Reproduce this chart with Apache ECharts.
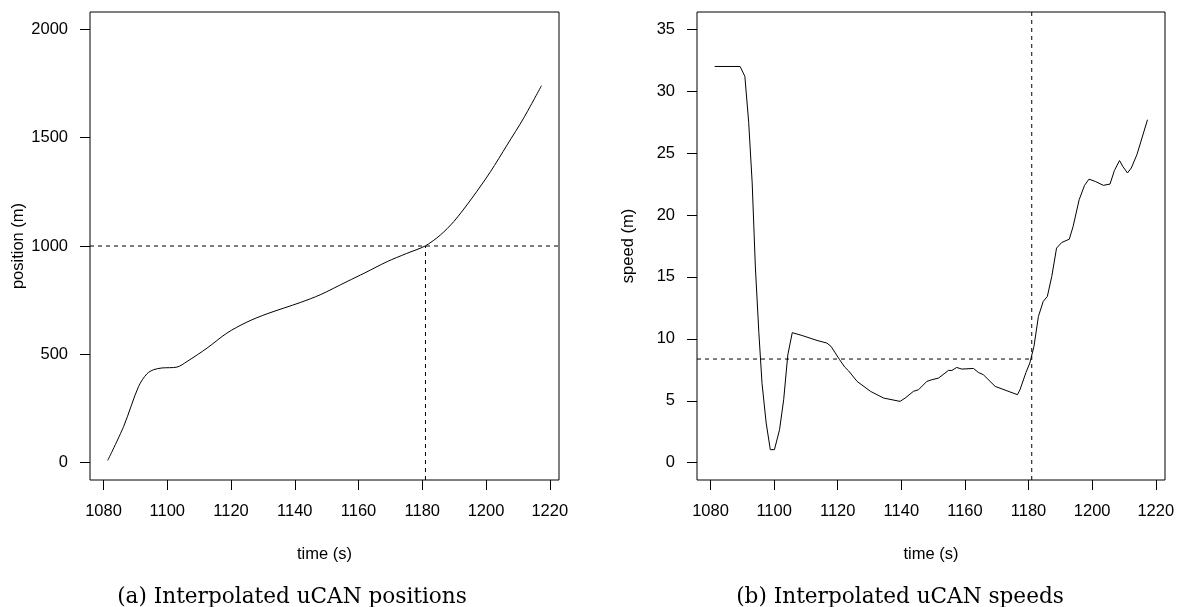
<!DOCTYPE html>
<html>
<head>
<meta charset="utf-8">
<script src="https://cdn.jsdelivr.net/npm/echarts@6/dist/echarts.min.js"></script>
<style>
html,body{margin:0;padding:0;background:#fff;}
#chart{width:1178px;height:607px;}
</style>
</head>
<body>
<div id="chart"></div>
<script>
// ---- data ----
const posTime  = [1081.3,1086.3,1091.0,1093.6,1095.7,1098.3,1103.0,1106.2,1112.5,1118.7,1125.0,1131.3,1141.7,1148.0,1156.4,1162.0,1169.0,1175.0,1181.0,1185.7,1189.9,1195.6,1201.4,1206.6,1211.8,1217.4];
const posValue = [10,167,352,410,429,437,441,467,529,598,649,687,739,775,836,876,928,965,1001,1051,1113,1221,1343,1466,1590,1740];

const spdTime  = [1081.3,1089.3,1090.8,1092.0,1093.1,1094.1,1095.2,1096.2,1097.5,1098.8,1100.1,1101.7,1103.0,1104.3,1105.7,1108.8,1113.5,1116.6,1117.9,1120.6,1122.2,1123.4,1126.1,1130.3,1134.4,1139.6,1141.2,1143.8,1145.4,1148.0,1149.6,1151.7,1154.8,1155.9,1157.4,1159.0,1162.7,1164.2,1165.8,1169.5,1176.5,1177.3,1179.2,1180.4,1181.7,1183.1,1184.6,1185.9,1187.3,1188.8,1190.4,1192.8,1194.0,1195.9,1197.6,1199.0,1201.1,1203.5,1205.6,1207.0,1208.6,1209.7,1211.1,1212.3,1214.1,1217.4];
const spdValue = [32.0,32.0,31.2,27.5,22.6,15.8,10.5,6.4,3.2,1.05,1.05,2.66,5.08,8.7,10.5,10.27,9.87,9.66,9.39,8.31,7.72,7.42,6.56,5.76,5.22,4.95,5.22,5.76,5.89,6.56,6.70,6.83,7.45,7.45,7.69,7.56,7.61,7.29,7.10,6.16,5.49,5.89,7.29,8.05,9.39,11.81,13.02,13.42,15.04,17.33,17.78,18.05,19.07,21.23,22.4,22.9,22.7,22.4,22.5,23.6,24.4,23.9,23.4,23.8,24.9,27.7];

const timeTicks  = [1080,1100,1120,1140,1160,1180,1200,1220];
const posTicks   = [0,500,1000,1500,2000];
const speedTicks = [0,5,10,15,20,25,30,35];

const posThreshold = 1000;   // m
const crossTime    = 1181;   // s
const crossSpeed   = 8.37;   // m/s

const captionA = '(a) Interpolated uCAN positions';
const captionB = '(b) Interpolated uCAN speeds';

// ---- chart ----
const X_MIN = 1075.75, X_MAX = 1222.9;
const P_MIN = -80, P_MAX = 2080;
const S_MIN = -1.4, S_MAX = 36.4;

const sans = '"Liberation Sans", Arial, sans-serif';
const serif = '"DejaVu Serif", "Liberation Serif", serif';
const FS = 16.5;

function xAxisDef(gi){
  return {
    type:'value', gridIndex:gi, min:X_MIN, max:X_MAX,
    name:'time (s)', nameLocation:'middle', nameGap:66,
    nameTextStyle:{fontFamily:sans, fontSize:FS, color:'#000'},
    axisLine:{show:false, onZero:false},
    splitLine:{show:false},
    axisTick:{show:true, length:10, customValues:timeTicks, lineStyle:{color:'#000', width:1}},
    axisLabel:{customValues:timeTicks, margin:23, fontFamily:sans, fontSize:FS, color:'#000', formatter:v=>String(v)}
  };
}
function yAxisDef(gi, mn, mx, ticks, name){
  return {
    type:'value', gridIndex:gi, min:mn, max:mx,
    name:name, nameLocation:'middle', nameGap:60,
    nameTextStyle:{fontFamily:sans, fontSize:FS, color:'#000'},
    axisLine:{show:false, onZero:false},
    splitLine:{show:false},
    axisTick:{show:true, length:10, customValues:ticks, lineStyle:{color:'#000', width:1}},
    axisLabel:{customValues:ticks, margin:22, fontFamily:sans, fontSize:FS, color:'#000', formatter:v=>String(v)}
  };
}

const zip = (a,b) => a.map((v,i)=>[v,b[i]]);
const dash = {color:'#000', width:1, type:[4,4]};

const option = {
  animation:false,
  backgroundColor:'#fff',
  grid:[
    {left:90, top:12, width:469, height:468, show:true, borderColor:'#000', borderWidth:1, containLabel:false},
    {left:697, top:12, width:468, height:468, show:true, borderColor:'#000', borderWidth:1, containLabel:false}
  ],
  xAxis:[xAxisDef(0), xAxisDef(1)],
  yAxis:[yAxisDef(0,P_MIN,P_MAX,posTicks,'position (m)'), yAxisDef(1,S_MIN,S_MAX,speedTicks,'speed (m)')],
  title:[
    {text:captionA, left:287, top:581, textAlign:'center', textStyle:{fontFamily:serif, fontSize:21.6, fontWeight:'normal', color:'#000'}},
    {text:captionB, left:895, top:581, textAlign:'center', textStyle:{fontFamily:serif, fontSize:21.6, fontWeight:'normal', color:'#000'}}
  ],
  series:[
    {type:'line', xAxisIndex:0, yAxisIndex:0, data:zip(posTime,posValue), showSymbol:false, smooth:0.3, lineStyle:{color:'#000', width:1}},
    {type:'line', xAxisIndex:0, yAxisIndex:0, data:[[X_MIN,posThreshold],[X_MAX,posThreshold]], showSymbol:false, lineStyle:dash},
    {type:'line', xAxisIndex:0, yAxisIndex:0, data:[[crossTime,P_MIN],[crossTime,posThreshold]], showSymbol:false, lineStyle:dash},
    {type:'line', xAxisIndex:1, yAxisIndex:1, data:zip(spdTime,spdValue), showSymbol:false, smooth:false, lineStyle:{color:'#000', width:1}},
    {type:'line', xAxisIndex:1, yAxisIndex:1, data:[[X_MIN,crossSpeed],[crossTime,crossSpeed]], showSymbol:false, lineStyle:dash},
    {type:'line', xAxisIndex:1, yAxisIndex:1, data:[[crossTime,S_MIN],[crossTime,S_MAX]], showSymbol:false, lineStyle:dash}
  ]
};
const chart = echarts.init(document.getElementById('chart'), null, {renderer:'canvas'});
chart.setOption(option);
</script>
</body>
</html>
